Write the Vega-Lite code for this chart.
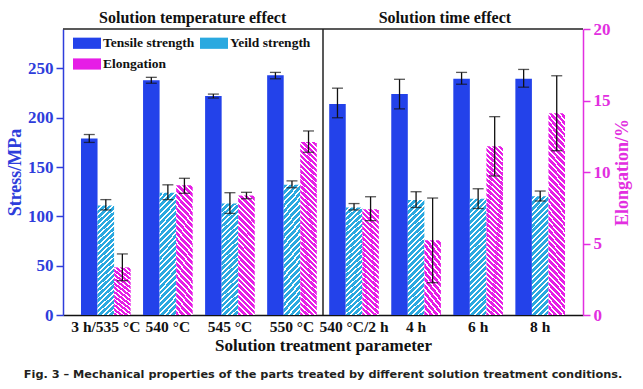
{
"$schema": "https://vega.github.io/schema/vega-lite/v6.json",
"autosize": {"type": "none"},
"width": 520, "height": 286,
"padding": {"left": 63, "top": 29, "right": 60, "bottom": 74},
"background": "white",
"title": {"text": "Fig. 3 – Mechanical properties of the parts treated by different solution treatment conditions.", "orient": "bottom", "anchor": "middle", "font": "DejaVu Sans", "fontSize": 11.3, "fontWeight": "bold", "color": "#231f20", "offset": 15},
"data": {"values": [
{"param": "3 h/535 °C", "series": "Tensile strength", "value": 179, "lo": 175, "hi": 183},
{"param": "3 h/535 °C", "series": "Yeild strength", "value": 111, "lo": 106.5, "hi": 117},
{"param": "3 h/535 °C", "series": "Elongation", "value": 3.33, "lo": 2.4, "hi": 4.27},
{"param": "540 °C", "series": "Tensile strength", "value": 238, "lo": 235, "hi": 241},
{"param": "540 °C", "series": "Yeild strength", "value": 124, "lo": 117, "hi": 132},
{"param": "540 °C", "series": "Elongation", "value": 9.07, "lo": 8.51, "hi": 9.56},
{"param": "545 °C", "series": "Tensile strength", "value": 222, "lo": 220, "hi": 224},
{"param": "545 °C", "series": "Yeild strength", "value": 113, "lo": 103, "hi": 124},
{"param": "545 °C", "series": "Elongation", "value": 8.35, "lo": 8.13, "hi": 8.58},
{"param": "550 °C", "series": "Tensile strength", "value": 243, "lo": 239.5, "hi": 246},
{"param": "550 °C", "series": "Yeild strength", "value": 132, "lo": 129, "hi": 136},
{"param": "550 °C", "series": "Elongation", "value": 12.1, "lo": 11.38, "hi": 12.87},
{"param": "540 °C/2 h", "series": "Tensile strength", "value": 214, "lo": 200, "hi": 230},
{"param": "540 °C/2 h", "series": "Yeild strength", "value": 109, "lo": 106.5, "hi": 113},
{"param": "540 °C/2 h", "series": "Elongation", "value": 7.4, "lo": 6.6, "hi": 8.27},
{"param": "4 h", "series": "Tensile strength", "value": 224, "lo": 209, "hi": 239},
{"param": "4 h", "series": "Yeild strength", "value": 116.5, "lo": 109, "hi": 125},
{"param": "4 h", "series": "Elongation", "value": 5.22, "lo": 2.26, "hi": 8.18},
{"param": "6 h", "series": "Tensile strength", "value": 239.5, "lo": 234, "hi": 246},
{"param": "6 h", "series": "Yeild strength", "value": 118, "lo": 108, "hi": 128},
{"param": "6 h", "series": "Elongation", "value": 11.8, "lo": 9.72, "hi": 13.87},
{"param": "8 h", "series": "Tensile strength", "value": 239.5, "lo": 231, "hi": 249},
{"param": "8 h", "series": "Yeild strength", "value": 120.5, "lo": 115.6, "hi": 125.7},
{"param": "8 h", "series": "Elongation", "value": 14.1, "lo": 11.49, "hi": 16.73}
]},
"layer": [
{"layer": [
 {"transform": [{"filter": "datum.series === 'Tensile strength'"}],
  "mark": {"type": "bar"},
  "encoding": {
   "x": {"field": "param", "type": "nominal", "title": "Solution treatment parameter", "scale": {"domain": ["3 h/535 °C", "540 °C", "545 °C", "550 °C", "540 °C/2 h", "4 h", "6 h", "8 h"], "paddingInner": 0.2, "paddingOuter": 0.29}},
   "xOffset": {"field": "series", "type": "nominal", "scale": {"domain": ["Tensile strength", "Yeild strength", "Elongation"], "paddingInner": 0, "paddingOuter": 0}},
   "y": {"field": "value", "type": "quantitative", "scale": {"domain": [0, 290], "nice": false},
    "axis": {"orient": "left", "title": "Stress/MPa", "values": [0, 25, 50, 75, 100, 125, 150, 175, 200, 225, 250, 275],
     "labelExpr": "datum.value % 50 === 0 ? datum.label : ''", "labelOverlap": false, "labelFlush": false,
     "tickSize": {"condition": {"test": "datum.value % 50 === 0", "value": 7}, "value": 4},
     "domainColor": "#2e3ddb", "tickColor": "#2e3ddb", "labelColor": "#2e3ddb", "titleColor": "#2e3ddb",
     "labelFont": "Liberation Serif", "titleFont": "Liberation Serif", "labelFontWeight": "bold", "titleFontWeight": "bold",
     "domainWidth": 1.5, "tickWidth": 1.5, "labelFontSize": 17, "titleFontSize": 18, "labelPadding": 3, "titlePadding": 3}},
   "color": {"field": "series", "type": "nominal", "scale": {"domain": ["Tensile strength", "Yeild strength", "Elongation"], "range": ["#2342ea", "#2aa9e0", "#e61de6"]},
    "legend": {"orient": "none", "legendX": 10, "legendY": 0, "columns": 2, "direction": "horizontal", "title": null, "symbolType": "M-1,-0.4H1V0.4H-1Z", "symbolSize": 784, "symbolStrokeWidth": 0, "labelFont": "Liberation Serif", "labelFontWeight": "bold", "labelFontSize": 13.5, "labelColor": "#111", "labelOffset": 2, "columnPadding": 5, "rowPadding": -12, "padding": 0,
     "encoding": {"symbols": {"fill": {"condition": [
      {"test": "datum.value === 'Yeild strength'", "value": {"gradient": "linear", "x1": 0, "y1": 0, "x2": 1.207, "y2": 0.483, "stops": [
       {"offset": 0, "color": "#2aa9e0"},
       {"offset": 0.0929, "color": "#2aa9e0"}, {"offset": 0.0929, "color": "#fff"}, {"offset": 0.1429, "color": "#fff"}, {"offset": 0.1429, "color": "#2aa9e0"},
       {"offset": 0.2357, "color": "#2aa9e0"}, {"offset": 0.2357, "color": "#fff"}, {"offset": 0.2857, "color": "#fff"}, {"offset": 0.2857, "color": "#2aa9e0"},
       {"offset": 0.3786, "color": "#2aa9e0"}, {"offset": 0.3786, "color": "#fff"}, {"offset": 0.4286, "color": "#fff"}, {"offset": 0.4286, "color": "#2aa9e0"},
       {"offset": 0.5214, "color": "#2aa9e0"}, {"offset": 0.5214, "color": "#fff"}, {"offset": 0.5714, "color": "#fff"}, {"offset": 0.5714, "color": "#2aa9e0"},
       {"offset": 0.6643, "color": "#2aa9e0"}, {"offset": 0.6643, "color": "#fff"}, {"offset": 0.7143, "color": "#fff"}, {"offset": 0.7143, "color": "#2aa9e0"},
       {"offset": 0.8071, "color": "#2aa9e0"}, {"offset": 0.8071, "color": "#fff"}, {"offset": 0.8571, "color": "#fff"}, {"offset": 0.8571, "color": "#2aa9e0"},
       {"offset": 0.95, "color": "#2aa9e0"}, {"offset": 0.95, "color": "#fff"}, {"offset": 1, "color": "#fff"}]}},
      {"test": "datum.value === 'Elongation'", "value": {"gradient": "linear", "x1": 0, "y1": 1, "x2": 1.207, "y2": 0.517, "stops": [
       {"offset": 0, "color": "#e61de6"},
       {"offset": 0.0929, "color": "#e61de6"}, {"offset": 0.0929, "color": "#fff"}, {"offset": 0.1429, "color": "#fff"}, {"offset": 0.1429, "color": "#e61de6"},
       {"offset": 0.2357, "color": "#e61de6"}, {"offset": 0.2357, "color": "#fff"}, {"offset": 0.2857, "color": "#fff"}, {"offset": 0.2857, "color": "#e61de6"},
       {"offset": 0.3786, "color": "#e61de6"}, {"offset": 0.3786, "color": "#fff"}, {"offset": 0.4286, "color": "#fff"}, {"offset": 0.4286, "color": "#e61de6"},
       {"offset": 0.5214, "color": "#e61de6"}, {"offset": 0.5214, "color": "#fff"}, {"offset": 0.5714, "color": "#fff"}, {"offset": 0.5714, "color": "#e61de6"},
       {"offset": 0.6643, "color": "#e61de6"}, {"offset": 0.6643, "color": "#fff"}, {"offset": 0.7143, "color": "#fff"}, {"offset": 0.7143, "color": "#e61de6"},
       {"offset": 0.8071, "color": "#e61de6"}, {"offset": 0.8071, "color": "#fff"}, {"offset": 0.8571, "color": "#fff"}, {"offset": 0.8571, "color": "#e61de6"},
       {"offset": 0.95, "color": "#e61de6"}, {"offset": 0.95, "color": "#fff"}, {"offset": 1, "color": "#fff"}]}}
     ], "value": "#2342ea"}}}}}
  }},
 {"transform": [{"filter": "datum.series === 'Yeild strength'"}],
  "mark": {"type": "bar", "fill": {"gradient": "linear", "x1": 0, "y1": 0, "x2": 0.157, "y2": 1.12, "stops": [
   {"offset": 0, "color": "#2aa9e0"},
   {"offset": 0.0271, "color": "#2aa9e0"}, {"offset": 0.0271, "color": "#fff"}, {"offset": 0.0417, "color": "#fff"}, {"offset": 0.0417, "color": "#2aa9e0"},
   {"offset": 0.0688, "color": "#2aa9e0"}, {"offset": 0.0688, "color": "#fff"}, {"offset": 0.0833, "color": "#fff"}, {"offset": 0.0833, "color": "#2aa9e0"},
   {"offset": 0.1104, "color": "#2aa9e0"}, {"offset": 0.1104, "color": "#fff"}, {"offset": 0.125, "color": "#fff"}, {"offset": 0.125, "color": "#2aa9e0"},
   {"offset": 0.1521, "color": "#2aa9e0"}, {"offset": 0.1521, "color": "#fff"}, {"offset": 0.1667, "color": "#fff"}, {"offset": 0.1667, "color": "#2aa9e0"},
   {"offset": 0.1938, "color": "#2aa9e0"}, {"offset": 0.1938, "color": "#fff"}, {"offset": 0.2083, "color": "#fff"}, {"offset": 0.2083, "color": "#2aa9e0"},
   {"offset": 0.2354, "color": "#2aa9e0"}, {"offset": 0.2354, "color": "#fff"}, {"offset": 0.25, "color": "#fff"}, {"offset": 0.25, "color": "#2aa9e0"},
   {"offset": 0.2771, "color": "#2aa9e0"}, {"offset": 0.2771, "color": "#fff"}, {"offset": 0.2917, "color": "#fff"}, {"offset": 0.2917, "color": "#2aa9e0"},
   {"offset": 0.3188, "color": "#2aa9e0"}, {"offset": 0.3188, "color": "#fff"}, {"offset": 0.3333, "color": "#fff"}, {"offset": 0.3333, "color": "#2aa9e0"},
   {"offset": 0.3604, "color": "#2aa9e0"}, {"offset": 0.3604, "color": "#fff"}, {"offset": 0.375, "color": "#fff"}, {"offset": 0.375, "color": "#2aa9e0"},
   {"offset": 0.4021, "color": "#2aa9e0"}, {"offset": 0.4021, "color": "#fff"}, {"offset": 0.4167, "color": "#fff"}, {"offset": 0.4167, "color": "#2aa9e0"},
   {"offset": 0.4438, "color": "#2aa9e0"}, {"offset": 0.4438, "color": "#fff"}, {"offset": 0.4583, "color": "#fff"}, {"offset": 0.4583, "color": "#2aa9e0"},
   {"offset": 0.4854, "color": "#2aa9e0"}, {"offset": 0.4854, "color": "#fff"}, {"offset": 0.5, "color": "#fff"}, {"offset": 0.5, "color": "#2aa9e0"},
   {"offset": 0.5271, "color": "#2aa9e0"}, {"offset": 0.5271, "color": "#fff"}, {"offset": 0.5417, "color": "#fff"}, {"offset": 0.5417, "color": "#2aa9e0"},
   {"offset": 0.5688, "color": "#2aa9e0"}, {"offset": 0.5688, "color": "#fff"}, {"offset": 0.5833, "color": "#fff"}, {"offset": 0.5833, "color": "#2aa9e0"},
   {"offset": 0.6104, "color": "#2aa9e0"}, {"offset": 0.6104, "color": "#fff"}, {"offset": 0.625, "color": "#fff"}, {"offset": 0.625, "color": "#2aa9e0"},
   {"offset": 0.6521, "color": "#2aa9e0"}, {"offset": 0.6521, "color": "#fff"}, {"offset": 0.6667, "color": "#fff"}, {"offset": 0.6667, "color": "#2aa9e0"},
   {"offset": 0.6938, "color": "#2aa9e0"}, {"offset": 0.6938, "color": "#fff"}, {"offset": 0.7083, "color": "#fff"}, {"offset": 0.7083, "color": "#2aa9e0"},
   {"offset": 0.7354, "color": "#2aa9e0"}, {"offset": 0.7354, "color": "#fff"}, {"offset": 0.75, "color": "#fff"}, {"offset": 0.75, "color": "#2aa9e0"},
   {"offset": 0.7771, "color": "#2aa9e0"}, {"offset": 0.7771, "color": "#fff"}, {"offset": 0.7917, "color": "#fff"}, {"offset": 0.7917, "color": "#2aa9e0"},
   {"offset": 0.8188, "color": "#2aa9e0"}, {"offset": 0.8188, "color": "#fff"}, {"offset": 0.8333, "color": "#fff"}, {"offset": 0.8333, "color": "#2aa9e0"},
   {"offset": 0.8604, "color": "#2aa9e0"}, {"offset": 0.8604, "color": "#fff"}, {"offset": 0.875, "color": "#fff"}, {"offset": 0.875, "color": "#2aa9e0"},
   {"offset": 0.9021, "color": "#2aa9e0"}, {"offset": 0.9021, "color": "#fff"}, {"offset": 0.9167, "color": "#fff"}, {"offset": 0.9167, "color": "#2aa9e0"},
   {"offset": 0.9438, "color": "#2aa9e0"}, {"offset": 0.9438, "color": "#fff"}, {"offset": 0.9583, "color": "#fff"}, {"offset": 0.9583, "color": "#2aa9e0"},
   {"offset": 0.9854, "color": "#2aa9e0"}, {"offset": 0.9854, "color": "#fff"}, {"offset": 1, "color": "#fff"}]}},
  "encoding": {
   "x": {"field": "param", "type": "nominal"},
   "xOffset": {"field": "series", "type": "nominal"},
   "y": {"field": "value", "type": "quantitative"}
  }},
 {"transform": [{"filter": "datum.series !== 'Elongation'"}],
  "mark": {"type": "rule", "color": "#111", "strokeWidth": 1.3},
  "encoding": {"x": {"field": "param", "type": "nominal"}, "xOffset": {"field": "series", "type": "nominal"}, "y": {"field": "lo", "type": "quantitative"}, "y2": {"field": "hi"}}},
 {"transform": [{"filter": "datum.series !== 'Elongation'"}],
  "mark": {"type": "tick", "color": "#111", "thickness": 1.3, "size": 11},
  "encoding": {"x": {"field": "param", "type": "nominal"}, "xOffset": {"field": "series", "type": "nominal"}, "y": {"field": "lo", "type": "quantitative"}}},
 {"transform": [{"filter": "datum.series !== 'Elongation'"}],
  "mark": {"type": "tick", "color": "#111", "thickness": 1.3, "size": 11},
  "encoding": {"x": {"field": "param", "type": "nominal"}, "xOffset": {"field": "series", "type": "nominal"}, "y": {"field": "hi", "type": "quantitative"}}},
 {"data": {"values": [{}]}, "mark": {"type": "rule", "color": "#222", "strokeWidth": 1.5},
  "encoding": {"y": {"datum": 290, "type": "quantitative"}}},
 {"data": {"values": [{}]}, "mark": {"type": "rule", "color": "#222", "strokeWidth": 1.5},
  "encoding": {"x": {"datum": "550 °C", "type": "nominal", "bandPosition": 1.125}}},
 {"data": {"values": [{}]}, "mark": {"type": "text", "text": "Solution temperature effect", "font": "Liberation Serif", "fontWeight": "bold", "fontSize": 16, "color": "#111", "baseline": "alphabetic", "align": "center"},
  "encoding": {"x": {"datum": "540 °C", "type": "nominal", "bandPosition": 1.0}, "y": {"datum": 296, "type": "quantitative"}}},
 {"data": {"values": [{}]}, "mark": {"type": "text", "text": "Solution time effect", "font": "Liberation Serif", "fontWeight": "bold", "fontSize": 16, "color": "#111", "baseline": "alphabetic", "align": "center"},
  "encoding": {"x": {"datum": "4 h", "type": "nominal", "bandPosition": 1.08}, "y": {"datum": 296, "type": "quantitative"}}}
]},
{"layer": [
 {"transform": [{"filter": "datum.series === 'Elongation'"}],
  "mark": {"type": "bar"},
  "encoding": {
   "x": {"field": "param", "type": "nominal"},
   "xOffset": {"field": "series", "type": "nominal"},
   "y": {"field": "value", "type": "quantitative", "scale": {"domain": [0, 20], "nice": false},
    "axis": {"orient": "right", "title": "Elongation/%", "values": [0, 2.5, 5, 7.5, 10, 12.5, 15, 17.5, 20],
     "labelExpr": "datum.value % 5 === 0 ? datum.label : ''", "labelOverlap": false, "labelFlush": false,
     "tickSize": {"condition": {"test": "datum.value % 5 === 0", "value": 7}, "value": 4},
     "domainColor": "#e22fe0", "tickColor": "#e22fe0", "labelColor": "#e22fe0", "titleColor": "#e22fe0",
     "labelFont": "Liberation Serif", "titleFont": "Liberation Serif", "labelFontWeight": "bold", "titleFontWeight": "bold",
     "domainWidth": 1.5, "tickWidth": 1.5, "labelFontSize": 17, "titleFontSize": 18, "labelPadding": 3, "titlePadding": 3, "titleAngle": 270, "titleBaseline": "top"}},
   "fill": {"condition": [
    {"test": "datum.value < 6", "value": {"gradient": "linear", "x1": 0, "y1": 1, "x2": 0.326, "y2": -0.186, "stops": [
     {"offset": 0, "color": "#e61de6"},
     {"offset": 0.0464, "color": "#e61de6"}, {"offset": 0.0464, "color": "#fff"}, {"offset": 0.0714, "color": "#fff"}, {"offset": 0.0714, "color": "#e61de6"},
     {"offset": 0.1179, "color": "#e61de6"}, {"offset": 0.1179, "color": "#fff"}, {"offset": 0.1429, "color": "#fff"}, {"offset": 0.1429, "color": "#e61de6"},
     {"offset": 0.1893, "color": "#e61de6"}, {"offset": 0.1893, "color": "#fff"}, {"offset": 0.2143, "color": "#fff"}, {"offset": 0.2143, "color": "#e61de6"},
     {"offset": 0.2607, "color": "#e61de6"}, {"offset": 0.2607, "color": "#fff"}, {"offset": 0.2857, "color": "#fff"}, {"offset": 0.2857, "color": "#e61de6"},
     {"offset": 0.3321, "color": "#e61de6"}, {"offset": 0.3321, "color": "#fff"}, {"offset": 0.3571, "color": "#fff"}, {"offset": 0.3571, "color": "#e61de6"},
     {"offset": 0.4036, "color": "#e61de6"}, {"offset": 0.4036, "color": "#fff"}, {"offset": 0.4286, "color": "#fff"}, {"offset": 0.4286, "color": "#e61de6"},
     {"offset": 0.475, "color": "#e61de6"}, {"offset": 0.475, "color": "#fff"}, {"offset": 0.5, "color": "#fff"}, {"offset": 0.5, "color": "#e61de6"},
     {"offset": 0.5464, "color": "#e61de6"}, {"offset": 0.5464, "color": "#fff"}, {"offset": 0.5714, "color": "#fff"}, {"offset": 0.5714, "color": "#e61de6"},
     {"offset": 0.6179, "color": "#e61de6"}, {"offset": 0.6179, "color": "#fff"}, {"offset": 0.6429, "color": "#fff"}, {"offset": 0.6429, "color": "#e61de6"},
     {"offset": 0.6893, "color": "#e61de6"}, {"offset": 0.6893, "color": "#fff"}, {"offset": 0.7143, "color": "#fff"}, {"offset": 0.7143, "color": "#e61de6"},
     {"offset": 0.7607, "color": "#e61de6"}, {"offset": 0.7607, "color": "#fff"}, {"offset": 0.7857, "color": "#fff"}, {"offset": 0.7857, "color": "#e61de6"},
     {"offset": 0.8321, "color": "#e61de6"}, {"offset": 0.8321, "color": "#fff"}, {"offset": 0.8571, "color": "#fff"}, {"offset": 0.8571, "color": "#e61de6"},
     {"offset": 0.9036, "color": "#e61de6"}, {"offset": 0.9036, "color": "#fff"}, {"offset": 0.9286, "color": "#fff"}, {"offset": 0.9286, "color": "#e61de6"},
     {"offset": 0.975, "color": "#e61de6"}, {"offset": 0.975, "color": "#fff"}, {"offset": 1, "color": "#fff"}]}},
    {"test": "datum.value < 10", "value": {"gradient": "linear", "x1": 0, "y1": 1, "x2": 0.157, "y2": -0.12, "stops": [
     {"offset": 0, "color": "#e61de6"},
     {"offset": 0.0271, "color": "#e61de6"}, {"offset": 0.0271, "color": "#fff"}, {"offset": 0.0417, "color": "#fff"}, {"offset": 0.0417, "color": "#e61de6"},
     {"offset": 0.0688, "color": "#e61de6"}, {"offset": 0.0688, "color": "#fff"}, {"offset": 0.0833, "color": "#fff"}, {"offset": 0.0833, "color": "#e61de6"},
     {"offset": 0.1104, "color": "#e61de6"}, {"offset": 0.1104, "color": "#fff"}, {"offset": 0.125, "color": "#fff"}, {"offset": 0.125, "color": "#e61de6"},
     {"offset": 0.1521, "color": "#e61de6"}, {"offset": 0.1521, "color": "#fff"}, {"offset": 0.1667, "color": "#fff"}, {"offset": 0.1667, "color": "#e61de6"},
     {"offset": 0.1938, "color": "#e61de6"}, {"offset": 0.1938, "color": "#fff"}, {"offset": 0.2083, "color": "#fff"}, {"offset": 0.2083, "color": "#e61de6"},
     {"offset": 0.2354, "color": "#e61de6"}, {"offset": 0.2354, "color": "#fff"}, {"offset": 0.25, "color": "#fff"}, {"offset": 0.25, "color": "#e61de6"},
     {"offset": 0.2771, "color": "#e61de6"}, {"offset": 0.2771, "color": "#fff"}, {"offset": 0.2917, "color": "#fff"}, {"offset": 0.2917, "color": "#e61de6"},
     {"offset": 0.3188, "color": "#e61de6"}, {"offset": 0.3188, "color": "#fff"}, {"offset": 0.3333, "color": "#fff"}, {"offset": 0.3333, "color": "#e61de6"},
     {"offset": 0.3604, "color": "#e61de6"}, {"offset": 0.3604, "color": "#fff"}, {"offset": 0.375, "color": "#fff"}, {"offset": 0.375, "color": "#e61de6"},
     {"offset": 0.4021, "color": "#e61de6"}, {"offset": 0.4021, "color": "#fff"}, {"offset": 0.4167, "color": "#fff"}, {"offset": 0.4167, "color": "#e61de6"},
     {"offset": 0.4438, "color": "#e61de6"}, {"offset": 0.4438, "color": "#fff"}, {"offset": 0.4583, "color": "#fff"}, {"offset": 0.4583, "color": "#e61de6"},
     {"offset": 0.4854, "color": "#e61de6"}, {"offset": 0.4854, "color": "#fff"}, {"offset": 0.5, "color": "#fff"}, {"offset": 0.5, "color": "#e61de6"},
     {"offset": 0.5271, "color": "#e61de6"}, {"offset": 0.5271, "color": "#fff"}, {"offset": 0.5417, "color": "#fff"}, {"offset": 0.5417, "color": "#e61de6"},
     {"offset": 0.5688, "color": "#e61de6"}, {"offset": 0.5688, "color": "#fff"}, {"offset": 0.5833, "color": "#fff"}, {"offset": 0.5833, "color": "#e61de6"},
     {"offset": 0.6104, "color": "#e61de6"}, {"offset": 0.6104, "color": "#fff"}, {"offset": 0.625, "color": "#fff"}, {"offset": 0.625, "color": "#e61de6"},
     {"offset": 0.6521, "color": "#e61de6"}, {"offset": 0.6521, "color": "#fff"}, {"offset": 0.6667, "color": "#fff"}, {"offset": 0.6667, "color": "#e61de6"},
     {"offset": 0.6938, "color": "#e61de6"}, {"offset": 0.6938, "color": "#fff"}, {"offset": 0.7083, "color": "#fff"}, {"offset": 0.7083, "color": "#e61de6"},
     {"offset": 0.7354, "color": "#e61de6"}, {"offset": 0.7354, "color": "#fff"}, {"offset": 0.75, "color": "#fff"}, {"offset": 0.75, "color": "#e61de6"},
     {"offset": 0.7771, "color": "#e61de6"}, {"offset": 0.7771, "color": "#fff"}, {"offset": 0.7917, "color": "#fff"}, {"offset": 0.7917, "color": "#e61de6"},
     {"offset": 0.8188, "color": "#e61de6"}, {"offset": 0.8188, "color": "#fff"}, {"offset": 0.8333, "color": "#fff"}, {"offset": 0.8333, "color": "#e61de6"},
     {"offset": 0.8604, "color": "#e61de6"}, {"offset": 0.8604, "color": "#fff"}, {"offset": 0.875, "color": "#fff"}, {"offset": 0.875, "color": "#e61de6"},
     {"offset": 0.9021, "color": "#e61de6"}, {"offset": 0.9021, "color": "#fff"}, {"offset": 0.9167, "color": "#fff"}, {"offset": 0.9167, "color": "#e61de6"},
     {"offset": 0.9438, "color": "#e61de6"}, {"offset": 0.9438, "color": "#fff"}, {"offset": 0.9583, "color": "#fff"}, {"offset": 0.9583, "color": "#e61de6"},
     {"offset": 0.9854, "color": "#e61de6"}, {"offset": 0.9854, "color": "#fff"}, {"offset": 1, "color": "#fff"}]}}
   ], "value": {"gradient": "linear", "x1": 0, "y1": 1, "x2": 0.0964, "y2": -0.0806, "stops": [
     {"offset": 0, "color": "#e61de6"},
     {"offset": 0.0176, "color": "#e61de6"}, {"offset": 0.0176, "color": "#fff"}, {"offset": 0.027, "color": "#fff"}, {"offset": 0.027, "color": "#e61de6"},
     {"offset": 0.0446, "color": "#e61de6"}, {"offset": 0.0446, "color": "#fff"}, {"offset": 0.0541, "color": "#fff"}, {"offset": 0.0541, "color": "#e61de6"},
     {"offset": 0.0717, "color": "#e61de6"}, {"offset": 0.0717, "color": "#fff"}, {"offset": 0.0811, "color": "#fff"}, {"offset": 0.0811, "color": "#e61de6"},
     {"offset": 0.0987, "color": "#e61de6"}, {"offset": 0.0987, "color": "#fff"}, {"offset": 0.1081, "color": "#fff"}, {"offset": 0.1081, "color": "#e61de6"},
     {"offset": 0.1257, "color": "#e61de6"}, {"offset": 0.1257, "color": "#fff"}, {"offset": 0.1351, "color": "#fff"}, {"offset": 0.1351, "color": "#e61de6"},
     {"offset": 0.1527, "color": "#e61de6"}, {"offset": 0.1527, "color": "#fff"}, {"offset": 0.1622, "color": "#fff"}, {"offset": 0.1622, "color": "#e61de6"},
     {"offset": 0.1798, "color": "#e61de6"}, {"offset": 0.1798, "color": "#fff"}, {"offset": 0.1892, "color": "#fff"}, {"offset": 0.1892, "color": "#e61de6"},
     {"offset": 0.2068, "color": "#e61de6"}, {"offset": 0.2068, "color": "#fff"}, {"offset": 0.2162, "color": "#fff"}, {"offset": 0.2162, "color": "#e61de6"},
     {"offset": 0.2338, "color": "#e61de6"}, {"offset": 0.2338, "color": "#fff"}, {"offset": 0.2432, "color": "#fff"}, {"offset": 0.2432, "color": "#e61de6"},
     {"offset": 0.2608, "color": "#e61de6"}, {"offset": 0.2608, "color": "#fff"}, {"offset": 0.2703, "color": "#fff"}, {"offset": 0.2703, "color": "#e61de6"},
     {"offset": 0.2879, "color": "#e61de6"}, {"offset": 0.2879, "color": "#fff"}, {"offset": 0.2973, "color": "#fff"}, {"offset": 0.2973, "color": "#e61de6"},
     {"offset": 0.3149, "color": "#e61de6"}, {"offset": 0.3149, "color": "#fff"}, {"offset": 0.3243, "color": "#fff"}, {"offset": 0.3243, "color": "#e61de6"},
     {"offset": 0.3419, "color": "#e61de6"}, {"offset": 0.3419, "color": "#fff"}, {"offset": 0.3514, "color": "#fff"}, {"offset": 0.3514, "color": "#e61de6"},
     {"offset": 0.369, "color": "#e61de6"}, {"offset": 0.369, "color": "#fff"}, {"offset": 0.3784, "color": "#fff"}, {"offset": 0.3784, "color": "#e61de6"},
     {"offset": 0.396, "color": "#e61de6"}, {"offset": 0.396, "color": "#fff"}, {"offset": 0.4054, "color": "#fff"}, {"offset": 0.4054, "color": "#e61de6"},
     {"offset": 0.423, "color": "#e61de6"}, {"offset": 0.423, "color": "#fff"}, {"offset": 0.4324, "color": "#fff"}, {"offset": 0.4324, "color": "#e61de6"},
     {"offset": 0.45, "color": "#e61de6"}, {"offset": 0.45, "color": "#fff"}, {"offset": 0.4595, "color": "#fff"}, {"offset": 0.4595, "color": "#e61de6"},
     {"offset": 0.4771, "color": "#e61de6"}, {"offset": 0.4771, "color": "#fff"}, {"offset": 0.4865, "color": "#fff"}, {"offset": 0.4865, "color": "#e61de6"},
     {"offset": 0.5041, "color": "#e61de6"}, {"offset": 0.5041, "color": "#fff"}, {"offset": 0.5135, "color": "#fff"}, {"offset": 0.5135, "color": "#e61de6"},
     {"offset": 0.5311, "color": "#e61de6"}, {"offset": 0.5311, "color": "#fff"}, {"offset": 0.5405, "color": "#fff"}, {"offset": 0.5405, "color": "#e61de6"},
     {"offset": 0.5581, "color": "#e61de6"}, {"offset": 0.5581, "color": "#fff"}, {"offset": 0.5676, "color": "#fff"}, {"offset": 0.5676, "color": "#e61de6"},
     {"offset": 0.5852, "color": "#e61de6"}, {"offset": 0.5852, "color": "#fff"}, {"offset": 0.5946, "color": "#fff"}, {"offset": 0.5946, "color": "#e61de6"},
     {"offset": 0.6122, "color": "#e61de6"}, {"offset": 0.6122, "color": "#fff"}, {"offset": 0.6216, "color": "#fff"}, {"offset": 0.6216, "color": "#e61de6"},
     {"offset": 0.6392, "color": "#e61de6"}, {"offset": 0.6392, "color": "#fff"}, {"offset": 0.6486, "color": "#fff"}, {"offset": 0.6486, "color": "#e61de6"},
     {"offset": 0.6662, "color": "#e61de6"}, {"offset": 0.6662, "color": "#fff"}, {"offset": 0.6757, "color": "#fff"}, {"offset": 0.6757, "color": "#e61de6"},
     {"offset": 0.6933, "color": "#e61de6"}, {"offset": 0.6933, "color": "#fff"}, {"offset": 0.7027, "color": "#fff"}, {"offset": 0.7027, "color": "#e61de6"},
     {"offset": 0.7203, "color": "#e61de6"}, {"offset": 0.7203, "color": "#fff"}, {"offset": 0.7297, "color": "#fff"}, {"offset": 0.7297, "color": "#e61de6"},
     {"offset": 0.7473, "color": "#e61de6"}, {"offset": 0.7473, "color": "#fff"}, {"offset": 0.7568, "color": "#fff"}, {"offset": 0.7568, "color": "#e61de6"},
     {"offset": 0.7744, "color": "#e61de6"}, {"offset": 0.7744, "color": "#fff"}, {"offset": 0.7838, "color": "#fff"}, {"offset": 0.7838, "color": "#e61de6"},
     {"offset": 0.8014, "color": "#e61de6"}, {"offset": 0.8014, "color": "#fff"}, {"offset": 0.8108, "color": "#fff"}, {"offset": 0.8108, "color": "#e61de6"},
     {"offset": 0.8284, "color": "#e61de6"}, {"offset": 0.8284, "color": "#fff"}, {"offset": 0.8378, "color": "#fff"}, {"offset": 0.8378, "color": "#e61de6"},
     {"offset": 0.8554, "color": "#e61de6"}, {"offset": 0.8554, "color": "#fff"}, {"offset": 0.8649, "color": "#fff"}, {"offset": 0.8649, "color": "#e61de6"},
     {"offset": 0.8825, "color": "#e61de6"}, {"offset": 0.8825, "color": "#fff"}, {"offset": 0.8919, "color": "#fff"}, {"offset": 0.8919, "color": "#e61de6"},
     {"offset": 0.9095, "color": "#e61de6"}, {"offset": 0.9095, "color": "#fff"}, {"offset": 0.9189, "color": "#fff"}, {"offset": 0.9189, "color": "#e61de6"},
     {"offset": 0.9365, "color": "#e61de6"}, {"offset": 0.9365, "color": "#fff"}, {"offset": 0.9459, "color": "#fff"}, {"offset": 0.9459, "color": "#e61de6"},
     {"offset": 0.9635, "color": "#e61de6"}, {"offset": 0.9635, "color": "#fff"}, {"offset": 0.973, "color": "#fff"}, {"offset": 0.973, "color": "#e61de6"},
     {"offset": 0.9906, "color": "#e61de6"}, {"offset": 0.9906, "color": "#fff"}, {"offset": 1, "color": "#fff"}]}}
  }},
 {"transform": [{"filter": "datum.series === 'Elongation'"}],
  "mark": {"type": "rule", "color": "#111", "strokeWidth": 1.3},
  "encoding": {"x": {"field": "param", "type": "nominal"}, "xOffset": {"field": "series", "type": "nominal"}, "y": {"field": "lo", "type": "quantitative"}, "y2": {"field": "hi"}}},
 {"transform": [{"filter": "datum.series === 'Elongation'"}],
  "mark": {"type": "tick", "color": "#111", "thickness": 1.3, "size": 11},
  "encoding": {"x": {"field": "param", "type": "nominal"}, "xOffset": {"field": "series", "type": "nominal"}, "y": {"field": "lo", "type": "quantitative"}}},
 {"transform": [{"filter": "datum.series === 'Elongation'"}],
  "mark": {"type": "tick", "color": "#111", "thickness": 1.3, "size": 11},
  "encoding": {"x": {"field": "param", "type": "nominal"}, "xOffset": {"field": "series", "type": "nominal"}, "y": {"field": "hi", "type": "quantitative"}}}
]}
],
"resolve": {"scale": {"y": "independent"}},
"config": {
 "font": "Liberation Serif",
 "view": {"stroke": null},
 "axis": {"labelFont": "Liberation Serif", "labelFontWeight": "bold", "titleFont": "Liberation Serif", "titleFontWeight": "bold", "grid": false},
 "axisX": {"ticks": false, "domainColor": "#111", "domainWidth": 1.5, "labelColor": "#111", "labelFontSize": 15.5, "labelAngle": 0, "labelPadding": 4, "titleFontSize": 17, "titleColor": "#111", "titlePadding": 3}
}
}
